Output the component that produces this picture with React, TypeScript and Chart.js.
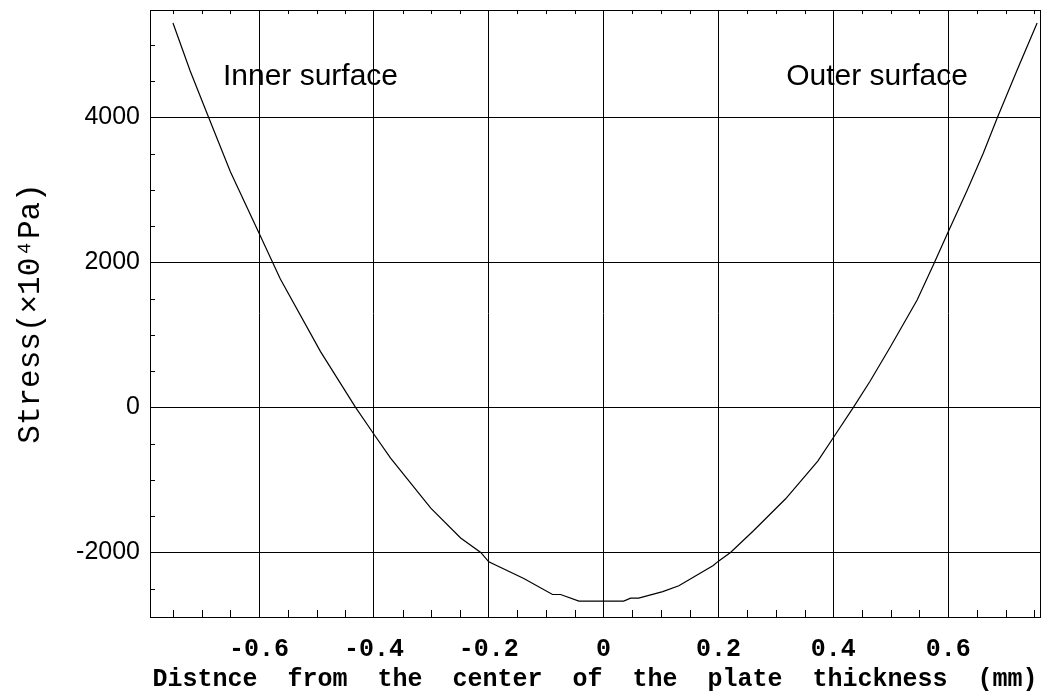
import { useEffect, useRef } from "react";
import { Chart, registerables } from "chart.js";

Chart.register(...registerables);

// Distance from the centre of the plate thickness (mm)
const thicknessMm = [
  -0.75, -0.72, -0.688, -0.65, -0.6, -0.563, -0.493, -0.432, -0.4, -0.371,
  -0.301, -0.249, -0.214, -0.2, -0.139, -0.089, -0.075, -0.043, 0.035, 0.047,
  0.061, 0.103, 0.131, 0.191, 0.2, 0.221, 0.261, 0.317, 0.373, 0.404,
  0.435, 0.464, 0.499, 0.546, 0.574, 0.6, 0.633, 0.661, 0.686, 0.72, 0.755,
];

// Stress (x10^4 Pa)
const stressValues = [
  5300, 4640, 4000, 3250, 2400, 1770, 770, 0, -370, -700,
  -1390, -1800, -2000, -2130, -2360, -2580, -2580, -2670, -2670, -2630,
  -2630, -2540, -2460, -2180, -2120, -2000, -1700, -1260, -740, -370,
  0, 360, 830, 1480, 1960, 2420, 2990, 3500, 4000, 4650, 5300,
];

const xMajorTicks = [-0.6, -0.4, -0.2, 0, 0.2, 0.4, 0.6];
const xTickLabels = ["-0.6", "-0.4", "-0.2", "0", "0.2", "0.4", "0.6"];
const yMajorTicks = [-2000, 0, 2000, 4000];
const yTickLabels = ["-2000", "0", "2000", "4000"];

const xMinorTicks = [
  -0.75, -0.7, -0.65, -0.55, -0.5, -0.45, -0.35, -0.3, -0.25, -0.15, -0.1, -0.05,
  0.05, 0.1, 0.15, 0.25, 0.3, 0.35, 0.45, 0.5, 0.55, 0.65, 0.7, 0.75,
];
const yMinorTicks = [-2500, -1500, -1000, -500, 500, 1000, 1500, 2500, 3000, 3500, 4500, 5000];

const annotationTexts = ["Inner surface", "Outer surface"];
const annotationX = [-0.663, 0.318];
const annotationY = [4450, 4450];

const xTitle = "Distnce  from  the  center  of  the  plate  thickness  (mm)";
const yTitle = "Stress(×10⁴Pa)";

const decorPlugin = {
  id: "decor",
  afterDraw(chart: any) {
    const { ctx, chartArea, scales } = chart;
    const xs = scales.x;
    const ys = scales.y;
    ctx.save();
    ctx.strokeStyle = "#000";
    ctx.lineWidth = 1;
    // frame
    ctx.strokeRect(
      Math.round(chartArea.left) + 0.5,
      Math.round(chartArea.top) + 0.5,
      Math.round(chartArea.right - chartArea.left),
      Math.round(chartArea.bottom - chartArea.top)
    );
    // minor ticks
    ctx.beginPath();
    for (const v of xMinorTicks) {
      const px = Math.round(xs.getPixelForValue(v)) + 0.5;
      ctx.moveTo(px, chartArea.bottom);
      ctx.lineTo(px, chartArea.bottom - 7);
      ctx.moveTo(px, chartArea.top);
      ctx.lineTo(px, chartArea.top + 4);
    }
    for (const v of yMinorTicks) {
      const py = Math.round(ys.getPixelForValue(v)) + 0.5;
      ctx.moveTo(chartArea.left, py);
      ctx.lineTo(chartArea.left + 5, py);
    }
    ctx.stroke();
    // annotations
    ctx.fillStyle = "#000";
    ctx.font = "30px 'Liberation Sans', Arial, sans-serif";
    ctx.textBaseline = "alphabetic";
    ctx.textAlign = "left";
    annotationTexts.forEach((t, i) => {
      ctx.fillText(t, xs.getPixelForValue(annotationX[i]), ys.getPixelForValue(annotationY[i]));
    });
    ctx.restore();
  },
};

export default function App() {
  const canvasRef = useRef<HTMLCanvasElement | null>(null);

  useEffect(() => {
    const canvas = canvasRef.current;
    if (!canvas) return;
    const chart = new Chart(canvas, {
      type: "line",
      data: {
        datasets: [
          {
            data: thicknessMm.map((x, i) => ({ x, y: stressValues[i] })),
            borderColor: "#000",
            borderWidth: 1.2,
            pointRadius: 0,
            tension: 0,
            fill: false,
          },
        ],
      },
      options: {
        animation: false,
        responsive: false,
        devicePixelRatio: 1,
        layout: { padding: { top: 10, right: 14, left: 0, bottom: 0 } },
        plugins: { legend: { display: false }, tooltip: { enabled: false } },
        scales: {
          x: {
            type: "linear",
            min: -0.79,
            max: 0.76,
            afterBuildTicks: (scale: any) => {
              scale.ticks = xMajorTicks.map((v) => ({ value: v }));
            },
            afterFit: (scale: any) => {
              scale.height = 80;
              scale.paddingLeft = 0;
              scale.paddingRight = 0;
            },
            grid: { color: "#000", lineWidth: 1, drawTicks: false },
            border: { display: false },
            ticks: {
              color: "#000",
              padding: 18,
              maxRotation: 0,
              autoSkip: false,
              font: { family: "'Liberation Mono', 'Courier New', monospace", size: 25, weight: "bold" },
              callback: (v: any) => {
                const i = xMajorTicks.findIndex((t) => Math.abs(t - Number(v)) < 1e-6);
                return i >= 0 ? xTickLabels[i] : "";
              },
            },
            title: {
              display: true,
              text: xTitle,
              color: "#000",
              padding: { top: 0, bottom: 2 },
              font: { family: "'Liberation Mono', 'Courier New', monospace", size: 25, weight: "bold" },
            },
          },
          y: {
            type: "linear",
            min: -2890,
            max: 5480,
            afterBuildTicks: (scale: any) => {
              scale.ticks = yMajorTicks.map((v) => ({ value: v }));
            },
            afterFit: (scale: any) => {
              scale.width = 150;
              scale.paddingTop = 0;
              scale.paddingBottom = 0;
            },
            grid: { color: "#000", lineWidth: 1, drawTicks: false },
            border: { display: false },
            ticks: {
              color: "#000",
              padding: 10,
              autoSkip: false,
              font: { family: "'Liberation Sans', Arial, sans-serif", size: 25 },
              callback: (v: any) => {
                const i = yMajorTicks.findIndex((t) => Math.abs(t - Number(v)) < 1e-6);
                return i >= 0 ? yTickLabels[i] : "";
              },
            },
            title: {
              display: true,
              text: yTitle,
              color: "#000",
              padding: { top: 12, bottom: 0 },
              font: { family: "'Liberation Mono', 'Courier New', monospace", size: 31 },
            },
          },
        },
      },
      plugins: [decorPlugin],
    } as any);
    return () => chart.destroy();
  }, []);

  return (
    <div style={{ position: "fixed", left: 0, top: 0, width: 1054, height: 697, background: "#fff" }}>
      <canvas ref={canvasRef} width={1054} height={697} style={{ display: "block" }} />
    </div>
  );
}
